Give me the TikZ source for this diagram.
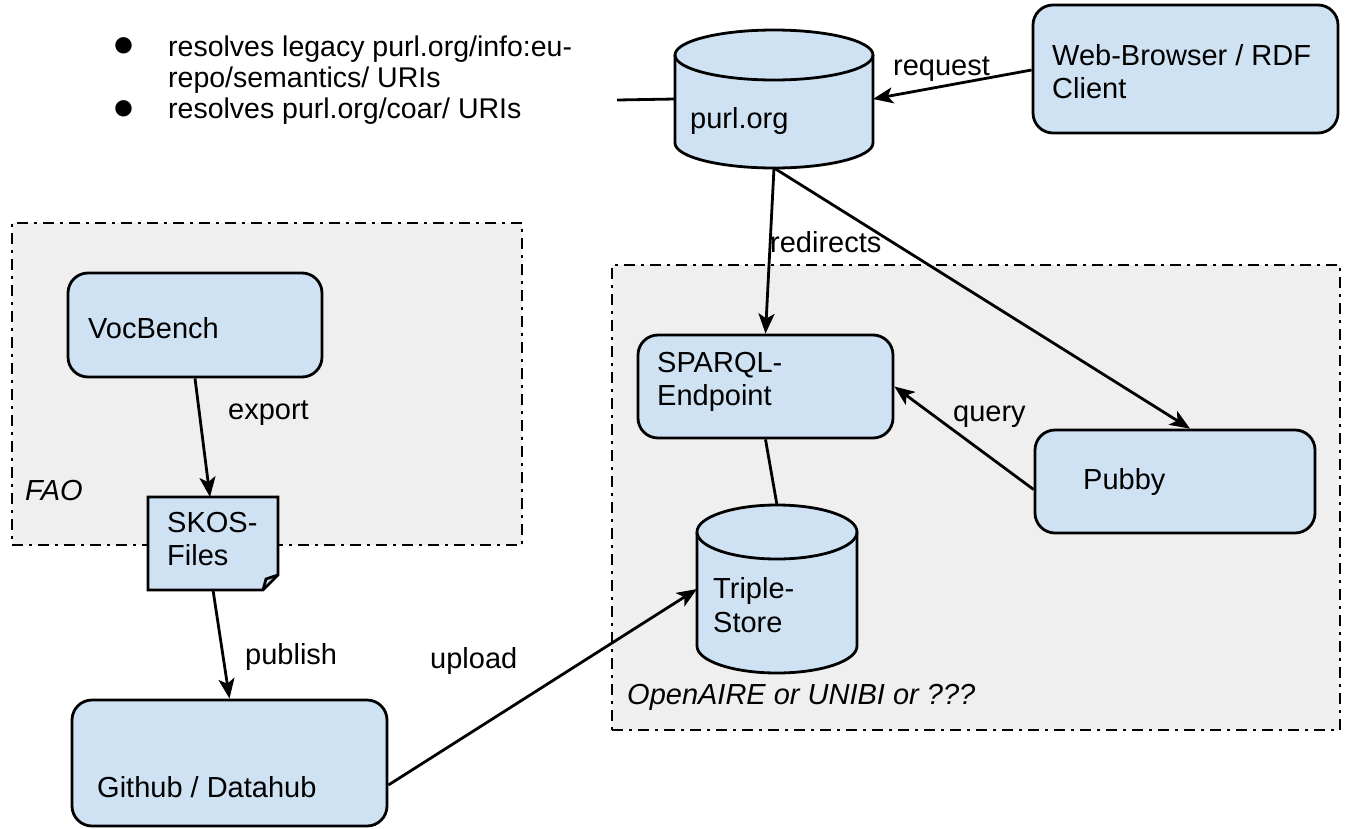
\documentclass[tikz,border=0pt]{standalone}
\usepackage{fontspec}
\setmainfont{Liberation Sans}
\usetikzlibrary{arrows.meta}
\definecolor{boxblue}{HTML}{CFE2F3}
\definecolor{grpgray}{HTML}{EFEFEF}
\newcommand\drawcyl[5]{% cx, ytop, rx, ry, ybottom
  \path[cylsty] ({#1-#3},{#2+#4}) -- ({#1-#3},{#5-#4})
    .. controls ({#1-#3},{#5-#4+0.5523*#4}) and ({#1-0.5523*#3},{#5}) .. ({#1},{#5})
    .. controls ({#1+0.5523*#3},{#5}) and ({#1+#3},{#5-#4+0.5523*#4}) .. ({#1+#3},{#5-#4})
    -- ({#1+#3},{#2+#4})
    .. controls ({#1+#3},{#2+#4-0.5523*#4}) and ({#1+0.5523*#3},{#2}) .. ({#1},{#2})
    .. controls ({#1-0.5523*#3},{#2}) and ({#1-#3},{#2+#4-0.5523*#4}) .. ({#1-#3},{#2+#4}) -- cycle;
  \draw[ln] ({#1-#3},{#2+#4})
    .. controls ({#1-#3},{#2+#4+0.5523*#4}) and ({#1-0.5523*#3},{#2+2*#4}) .. ({#1},{#2+2*#4})
    .. controls ({#1+0.5523*#3},{#2+2*#4}) and ({#1+#3},{#2+#4+0.5523*#4}) .. ({#1+#3},{#2+#4});
}
\tikzset{
  box/.style={draw=black, line width=2.8pt, fill=boxblue, rounded corners=20pt, inner sep=0pt},
  grp/.style={draw=black, fill=grpgray, line width=2.8pt, dash pattern=on 11pt off 6pt on 3pt off 6pt, inner sep=0pt},
  anch/.style={inner sep=0pt, outer sep=0pt},
  cylsty/.style={draw=black, fill=boxblue, line width=2.8pt},
  txt/.style={anchor=base west, inner sep=0pt, font=\fontsize{29}{34}\selectfont},
  ital/.style={anchor=base west, inner sep=0pt, font=\fontsize{29}{34}\selectfont\itshape},
  bul/.style={anchor=base west, inner sep=0pt, font=\fontsize{28.5}{32}\selectfont},
  dot/.style={inner sep=0pt, outer sep=0pt, font=\fontsize{38}{42}\selectfont},
  arr/.style={line width=2.8pt, -{Stealth[length=20pt,width=16pt,inset=5pt]}},
  ln/.style={line width=2.8pt},
}
\begin{document}
\begin{tikzpicture}[x=1pt,y=-1pt]
\useasboundingbox (0,0) rectangle (1345,828);
% groups
\node[grp, minimum width=510pt, minimum height=322pt] (fao) at (267,384) {};
\node[grp, minimum width=728pt, minimum height=465pt] (oa) at (976,497.5) {};
\node[ital] (faolbl) at (25,500) {FAO};
\node[ital] (oalbl) at (627,704) {OpenAIRE or UNIBI or ???};
% bullets
\node[dot] (b1) at (124,47) {●};
\node[dot] (b2) at (124,110) {●};
\node[bul] (l1) at (168,56) {resolves legacy purl.org/info:eu-};
\node[bul] (l2) at (168,87) {repo/semantics/ URIs};
\node[bul] (l3) at (168,118) {resolves purl.org/coar/ URIs};
\coordinate (lstart) at (617,100);
% boxes
\node[box, minimum width=254pt, minimum height=104pt] (voc) at (195,325) {};
\node[txt] (voct) at (88,338) {VocBench};
\node[box, minimum width=315pt, minimum height=126pt] (git) at (229.5,763) {};
\node[txt] (gitt) at (97,797) {Github / Datahub};
\node[box, minimum width=305pt, minimum height=128pt] (web) at (1185.5,69) {};
\node[txt] (webt1) at (1052,65) {Web-Browser / RDF};
\node[txt] (webt2) at (1052,98) {Client};
\node[box, minimum width=255pt, minimum height=103pt] (sparql) at (765.5,386.5) {};
\node[txt] (spt1) at (657,372) {SPARQL-};
\node[txt] (spt2) at (657,405) {Endpoint};
\node[box, minimum width=280pt, minimum height=103pt] (pubby) at (1175,481.5) {};
\node[txt] (pubt) at (1083,489) {Pubby};
% SKOS document
\node[anch, minimum width=130pt, minimum height=93pt] (skos) at (213,543.5) {};
\path[cylsty, line join=miter] (skos.north west) -- (skos.north east) -- ([yshift=15pt]skos.south east)
  -- ([xshift=-15pt]skos.south east) -- (skos.south west) -- cycle;
\draw[ln, line join=miter] ([xshift=-15pt]skos.south east) -- ++(3,-11) -- ([yshift=15pt]skos.south east);
\node[txt] (skt1) at (167,532) {SKOS-};
\node[txt] (skt2) at (167,565) {Files};
% cylinders
\drawcyl{774}{30}{99}{25}{168}
\node[anch, minimum width=198pt, minimum height=138pt] (purl) at (774,99) {};
\node[txt] (purlt) at (690,128) {purl.org};
\drawcyl{777}{505}{80}{27}{673}
\node[anch, minimum width=160pt, minimum height=168pt] (triple) at (777,589) {};
\node[txt] (trt1) at (713,598) {Triple-};
\node[txt] (trt2) at (713,632) {Store};
% connectors
\draw[ln] (lstart) -- (purl.west);
\draw[arr] ([yshift=-1pt]web.west) -- (purl.east);
\draw[arr] (purl.south) -- (sparql.north);
\draw[arr] (purl.south) -- ([xshift=15pt]pubby.north);
\draw[arr] ([yshift=-8pt]pubby.west) -- (sparql.east);
\draw[ln] (sparql.south) -- (triple.north);
\draw[arr] (voc.south) -- ([xshift=-3pt]skos.north);
\draw[arr] (skos.south) -- (git.north);
\draw[arr] ([yshift=-22pt]git.east) -- (triple.west);
% labels
\node[txt] (lreq) at (893,75) {request};
\node[txt] (lred) at (770,252) {redirects};
\node[txt] (lq) at (953,421) {query};
\node[txt] (lexp) at (228,419) {export};
\node[txt] (lpub) at (245,664) {publish};
\node[txt] (lup) at (430,668) {upload};
\end{tikzpicture}
\end{document}
